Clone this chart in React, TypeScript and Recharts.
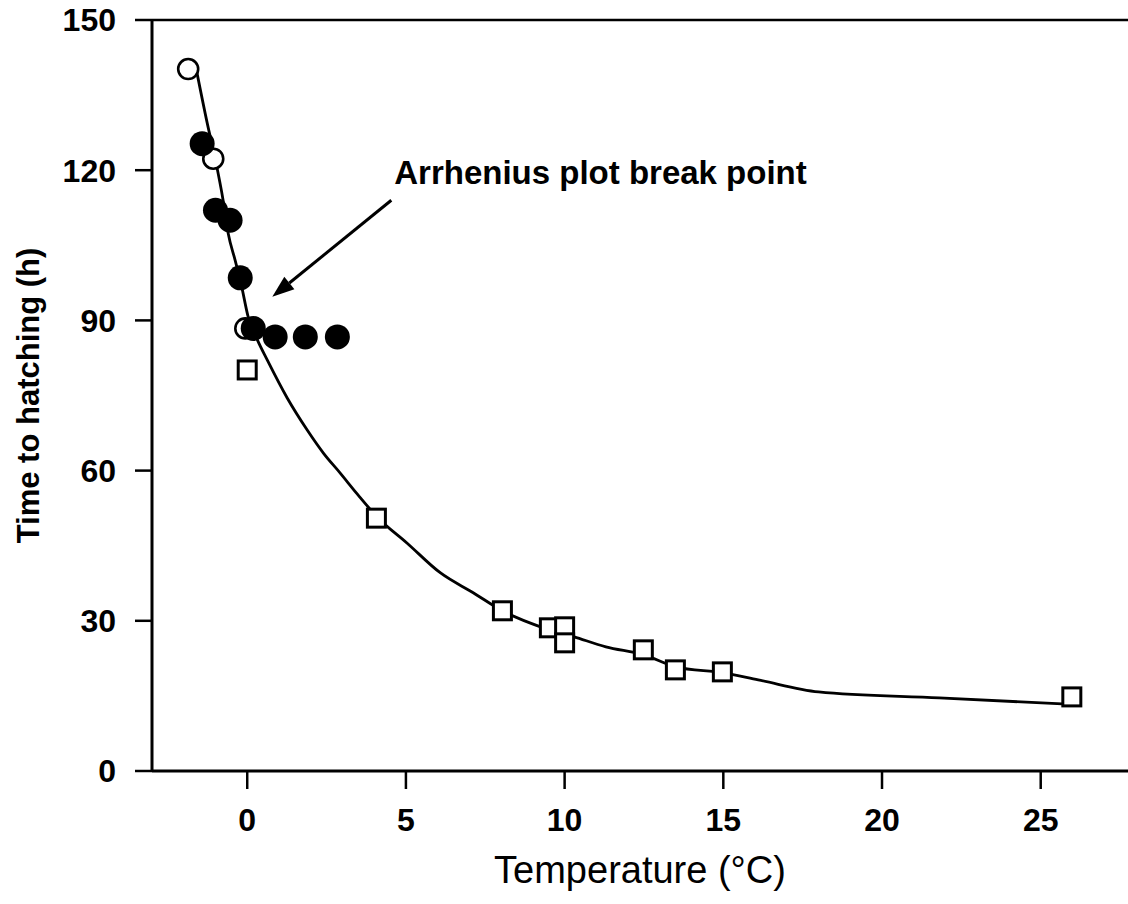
import {
  ComposedChart,
  Line,
  Scatter,
  XAxis,
  YAxis,
  ReferenceLine,
  ReferenceDot,
} from "recharts";

// fitted curve
const curveX = [
  -1.6, -1.26, -1.0, -0.76, -0.6, -0.38, -0.2, 0.03, 0.32, 0.63, 1.26, 1.89,
  2.4, 2.93, 3.47, 4.1, 5.04, 6.08, 7.12, 8.04, 9.24, 10.3, 11.3, 12.5, 13.5,
  15.0, 16.1, 18.0, 21.8, 26,
];
const curveY = [
  140, 129.4, 122, 114, 107.4, 102, 97.5, 90.7, 86.1, 82.1, 74.5, 68.1, 63.5,
  59.5, 55.3, 50.7, 45.5, 39.6, 35.6, 32, 28.8, 26.8, 24.8, 23.2, 20.8, 19.6,
  18.2, 15.8, 14.6, 13.3,
];

// open circles
const openX = [-1.86, -1.07, -0.06];
const openY = [140.2, 122.3, 88.4];

// filled circles
const filledX = [-1.42, -1.0, -0.54, -0.22, 0.19, 0.88, 1.83, 2.84];
const filledY = [125.3, 112.0, 110.0, 98.5, 88.4, 86.7, 86.7, 86.7];

// open squares
const squareX = [0, 4.07, 8.04, 9.52, 10.0, 10.0, 12.48, 13.49, 14.97, 25.98];
const squareY = [80.1, 50.5, 32.0, 28.6, 28.8, 25.6, 24.2, 20.2, 19.8, 14.8];

const xTicks = [0, 5, 10, 15, 20, 25];
const yTicks = [0, 30, 60, 90, 120, 150];

const annotationText = "Arrhenius plot break point";
const arrowFrom = { x: 4.54, y: 114 };
const arrowTo = { x: 0.79, y: 94.7 };
const labelAt = { x: 4.6, y: 119.5 };

const zip = (xs: number[], ys: number[]) => xs.map((x, i) => ({ x, y: ys[i] }));

const curveData = zip(curveX, curveY);
const openData = zip(openX, openY);
const filledData = zip(filledX, filledY);
const squareData = zip(squareX, squareY);

const FONT = "'Liberation Sans', Arial, Helvetica, sans-serif";

const OpenCircle = (props: any) => (
  <circle cx={props.cx} cy={props.cy} r={10} fill="#fff" stroke="#000" strokeWidth={2.6} />
);

const FilledCircle = (props: any) => (
  <circle cx={props.cx} cy={props.cy} r={12.5} fill="#000" />
);

const OpenSquare = (props: any) => (
  <rect
    x={props.cx - 9}
    y={props.cy - 9}
    width={18}
    height={18}
    fill="#fff"
    stroke="#000"
    strokeWidth={3}
  />
);

const Arrow = (props: any) => {
  const { x1, y1, x2, y2 } = props;
  const ang = Math.atan2(y2 - y1, x2 - x1);
  const len = 22;
  const half = 8;
  const bx = x2 - len * Math.cos(ang);
  const by = y2 - len * Math.sin(ang);
  const px = -Math.sin(ang) * half;
  const py = Math.cos(ang) * half;
  return (
    <g>
      <line x1={x1} y1={y1} x2={bx} y2={by} stroke="#000" strokeWidth={3} />
      <polygon
        points={`${x2},${y2} ${bx + px},${by + py} ${bx - px},${by - py}`}
        fill="#000"
      />
    </g>
  );
};

const YTitle = (props: any) => {
  const vb = props.viewBox || {};
  const cx = 28;
  const cy = vb.y + vb.height / 2;
  return (
    <text
      x={cx}
      y={cy}
      transform={`rotate(-90, ${cx}, ${cy})`}
      textAnchor="middle"
      dominantBaseline="central"
      fontFamily={FONT}
      fontWeight="bold"
      fontSize={31}
      fill="#000"
    >
      Time to hatching (h)
    </text>
  );
};

const tickStyle = {
  fontFamily: FONT,
  fontWeight: "bold",
  fontSize: 32,
  fill: "#000",
};

export default function App() {
  return (
    <div style={{ position: "absolute", left: 0, top: 0, background: "#fff" }}>
      <ComposedChart
        width={1128}
        height={904}
        margin={{ top: 20, right: 0, bottom: 0, left: 0 }}
        style={{ fontFamily: FONT }}
      >
        <XAxis
          type="number"
          dataKey="x"
          domain={[-3, 27.75]}
          allowDataOverflow
          ticks={xTicks}
          interval={0}
          height={133}
          tickSize={18}
          tickMargin={19}
          tick={tickStyle}
          axisLine={{ stroke: "#000", strokeWidth: 3 }}
          tickLine={{ stroke: "#000", strokeWidth: 2.5 }}
          label={{
            value: "Temperature (°C)",
            position: "insideBottom",
            offset: 21,
            style: { fontFamily: FONT, fontSize: 38, fill: "#000" },
          }}
        />
        <YAxis
          type="number"
          dataKey="y"
          domain={[0, 150]}
          ticks={yTicks}
          interval={0}
          width={152}
          tickSize={17}
          tickMargin={19}
          tick={tickStyle}
          axisLine={{ stroke: "#000", strokeWidth: 3 }}
          tickLine={{ stroke: "#000", strokeWidth: 2.5 }}
          label={<YTitle />}
        />
        <ReferenceLine y={150} stroke="#000" strokeWidth={2.5} ifOverflow="visible" />
        <Line
          data={curveData}
          dataKey="y"
          type="monotone"
          stroke="#000"
          strokeWidth={2.8}
          dot={false}
          activeDot={false}
          isAnimationActive={false}
        />
        <Scatter data={squareData} shape={OpenSquare} isAnimationActive={false} />
        <Scatter data={openData} shape={OpenCircle} isAnimationActive={false} />
        <Scatter data={filledData} shape={FilledCircle} isAnimationActive={false} />
        <ReferenceLine
          segment={[arrowFrom, arrowTo]}
          shape={Arrow}
          ifOverflow="visible"
        />
        <ReferenceDot
          x={labelAt.x}
          y={labelAt.y}
          r={1}
          fill="none"
          stroke="none"
          ifOverflow="visible"
          label={{
            value: annotationText,
            position: "right",
            offset: 0,
            style: { fontFamily: FONT, fontWeight: "bold", fontSize: 33, fill: "#000" },
          }}
        />
      </ComposedChart>
    </div>
  );
}
